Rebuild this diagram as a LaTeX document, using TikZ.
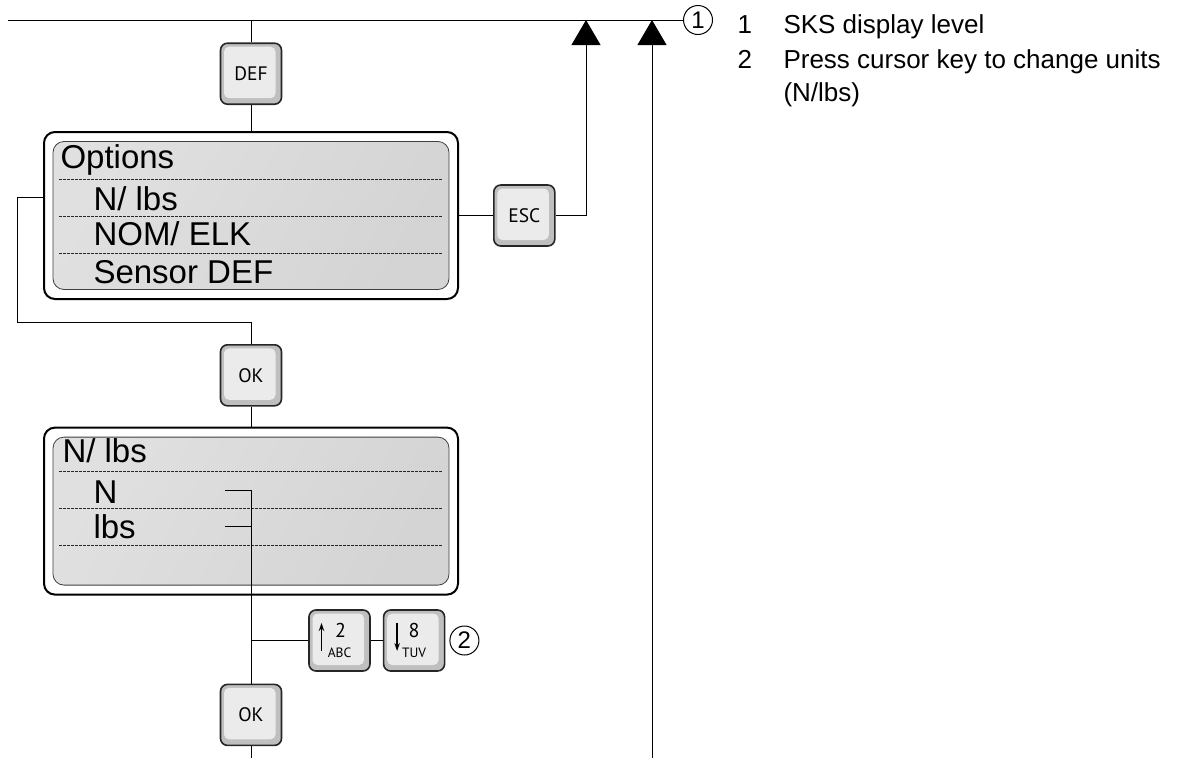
\documentclass[tikz,border=0pt]{standalone}
\usepackage{fontspec}
\setmainfont{Liberation Sans}
\newfontfamily\keyfont{PT Sans}
\usetikzlibrary{arrows.meta,positioning}

\begin{document}
\begin{tikzpicture}[x=1pt, y=-1pt, line width=1pt,
  keybox/.style={draw=black!85, line width=1.6pt, rounded corners=7pt, fill=black!25, minimum width=61pt, minimum height=61pt, inner sep=0pt, font=\keyfont\fontsize{19.5}{20}\selectfont,
    path picture={\fill[black!8, rounded corners=5pt] ([shift={(3.5pt,-3.5pt)}]path picture bounding box.north west) rectangle ([shift={(-6pt,6pt)}]path picture bounding box.south east);}},
  lcd/.style={draw, line width=2pt, rounded corners=11pt, fill=white, minimum width=414pt, minimum height=167pt,
    path picture={\shadedraw[left color=black!12, middle color=white, right color=black!17, shading angle=60, draw=black!75, line width=0.8pt] ([shift={(9pt,-9.5pt)}]path picture bounding box.north west) rectangle ([shift={(-9pt,9.5pt)}]path picture bounding box.south east);}},
  lcdtxt/.style={anchor=base west, inner sep=0pt, font=\fontsize{33}{40}\selectfont},
  lcddash/.style={draw=black!85, line width=0.9pt, dash pattern=on 3pt off 1pt},
  keydigit/.style={inner sep=0pt, font=\keyfont\fontsize{20}{20}\selectfont},
  keysub/.style={inner sep=0pt, font=\keyfont\fontsize{13.5}{14}\selectfont},
  keyarrow/.style={-{Stealth[length=8pt,width=5.5pt]}, line width=1.4pt},
  circnum/.style={circle, draw, line width=1pt, minimum size=29pt, inner sep=0pt, font=\fontsize{24}{24}\selectfont},
  legtxt/.style={anchor=base west, inner sep=0pt, font=\fontsize{26}{30}\selectfont},
  tip/.style={-{Triangle[width=29pt,length=25pt]}}]
  \useasboundingbox (0,0) rectangle (1183,758);

  \node[lcd] (opt) at (251,215.5) {};
  \node[keybox, above=26pt of opt] (def) {DEF};
  \node[keybox, right=34pt of opt] (esc) {ESC};
  \node[keybox, below=44pt of opt] (ok1) {OK};
  \node[lcd, below=20pt of ok1] (nl) {};
  \node[keybox, below=88pt of nl] (ok2) {OK};
  \node[keybox] (up) at (339.5,640.5) {};
  \node[keybox, right=12pt of up] (dn) {};
  \node[circnum, right=4pt of dn] (c2) {2};
  \node[circnum] (c1) at (698,20) {1};

  \foreach \y in {179,216,253,471,508,545} \draw[lcddash] (59,\y) -- (443,\y);
  \node[lcdtxt] (t0) at (60,168) {Options};
  \node[lcdtxt] (t1) at (93,210) {N/ lbs};
  \node[lcdtxt] (t2) at (93,245) {NOM/ ELK};
  \node[lcdtxt] (t3) at (93,283) {Sensor DEF};
  \node[lcdtxt] (u0) at (62,462) {N/ lbs};
  \node[lcdtxt] (u1) at (93,503) {N};
  \node[lcdtxt] (u2) at (93,538) {lbs};

  \node[keydigit] (k2) at ([shift={(1pt,10pt)}]up.center) {2};
  \node[keysub] (kabc) at ([shift={(0pt,-12.5pt)}]up.center) {ABC};
  \node[keydigit] (k8) at ([shift={(0pt,10pt)}]dn.center) {8};
  \node[keysub] (ktuv) at ([shift={(0pt,-12.5pt)}]dn.center) {TUV};
  \draw[keyarrow] ([shift={(-18pt,-10.5pt)}]up.center) -- ([shift={(-18pt,17.5pt)}]up.center);
  \draw[keyarrow] ([shift={(-17pt,17.5pt)}]dn.center) -- ([shift={(-17pt,-10.5pt)}]dn.center);

  \coordinate (tl) at (8,20);
  \coordinate (ar1) at (586,20);
  \coordinate (ar2) at (652,20);
  \coordinate (bt2) at (652,758);
  \coordinate (bt1) at (251,758);
  \coordinate (lp) at (17,197);
  \coordinate (lq) at (17,322);
  \coordinate (selN) at (225,490);
  \coordinate (selL) at (225,526);

  \draw (tl) -- (c1);
  \draw (def) -- (def |- tl);
  \draw (def) -- (opt);
  \draw (opt) -- (esc);
  \draw[tip] (esc.east) -| (ar1);
  \draw[tip] (bt2) -- (ar2);
  \draw (opt.west |- lp) -- (lp) -- (lq) -| (ok1.north);
  \draw (ok1) -- (nl);
  \draw (selN) -| (ok2.north);
  \draw (selL) -- (selL -| ok2.north);
  \draw (up.west -| ok2.north) -- (up);
  \draw (up) -- (dn);
  \draw (ok2) -- (bt1);

  \node[legtxt] (n1) at (737,33) {1};
  \node[legtxt] (l1) at (783,33) {SKS display level};
  \node[legtxt] (n2) at (737,68) {2};
  \node[legtxt] (l2) at (783,68) {Press cursor key to change units};
  \node[legtxt] (l3) at (783,101) {(N/lbs)};
\end{tikzpicture}
\end{document}
